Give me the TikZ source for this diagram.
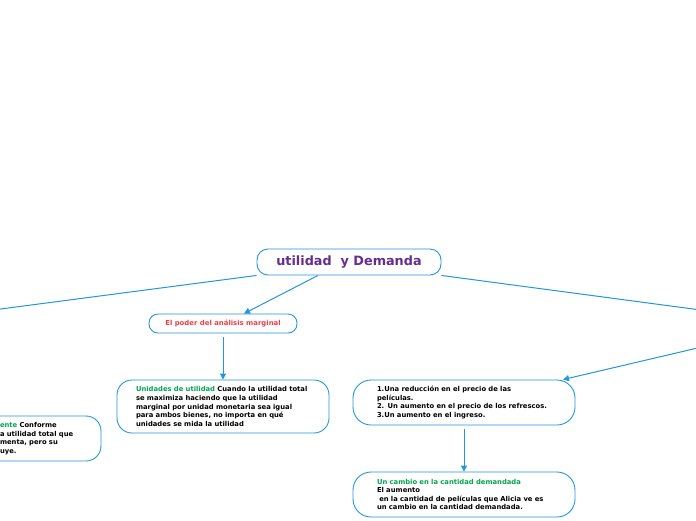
\documentclass[tikz,border=0pt]{standalone}
\usepackage{fontspec}
\setmainfont{DejaVu Sans}
\usetikzlibrary{arrows.meta}
\definecolor{lineblue}{RGB}{36,150,222}
\definecolor{tgreen}{RGB}{0,166,81}
\definecolor{tred}{RGB}{238,62,74}
\definecolor{tpurple}{RGB}{102,45,145}
\pgfdeclarelayer{bgzero}
\pgfdeclarelayer{bgone}
\pgfsetlayers{bgzero,bgone,main}
\begin{document}
\begin{tikzpicture}[x=1pt,y=-1pt,
  box/.style={draw=lineblue, line width=0.9pt, fill=white, rounded corners=#1, inner ysep=0pt},
  small/.style={font=\bfseries\fontsize{6.8}{8.6}\selectfont, align=left},
  conn/.style={draw=lineblue, line width=1pt},
  arr/.style={conn, -{Triangle[length=6pt,width=6pt]}}]
\useasboundingbox (0,0) rectangle (696,520);
\clip (0,0) rectangle (696,520);

\node[box=11, minimum width=184pt, minimum height=26pt, text=tpurple,
      font=\bfseries\fontsize{12.8}{15}\selectfont] (root) at (349,262) {utilidad\ \ y Demanda};

\node[box=9, minimum width=148pt, minimum height=19pt, text=tred,
      font=\bfseries\fontsize{6.9}{8}\selectfont] (poder) at (223,323.5) {El poder del análisis marginal};

\node[box=15, small, minimum width=212pt, minimum height=53pt, inner xsep=19pt, text width=174pt]
  (unid) at (223,406.5)
  {\textcolor{tgreen}{Unidades de utilidad} Cuando la utilidad total\\
   se maximiza haciendo que la utilidad\\
   marginal por unidad monetaria sea igual\\
   para ambos bienes, no importa en qué\\
   unidades se mida la utilidad};

\node[box=15, small, minimum width=121pt, minimum height=45pt, inner xsep=20pt, text width=81pt]
  (decr) at (40.5,438.5)
  {\textcolor{tgreen}{ente} Conforme\\
   a utilidad total que\\
   menta, pero su\\
   uye.};

\node[box=18, small, minimum width=222pt, minimum height=45pt, inner xsep=24pt, text width=174pt]
  (cambios) at (464,402.5)
  {1.Una reducción en el precio de las\\
   películas.\\
   2. Un aumento en el precio de los refrescos.\\
   3.Un aumento en el ingreso.};

\node[box=18, small, minimum width=222pt, minimum height=45pt, inner xsep=24pt, text width=174pt]
  (cantidad) at (464,494.5)
  {\textcolor{tgreen}{Un cambio en la cantidad demandada}\\
   El aumento\\
   \ en la cantidad de películas que Alicia ve es\\
   un cambio en la cantidad demandada.};

\coordinate (leftend) at (-30,313);
\coordinate (rightnode) at (802,323.5);

\begin{pgfonlayer}{bgzero}
  \fill[white] (0,0) rectangle (696,520);
\end{pgfonlayer}
\begin{pgfonlayer}{bgone}
  \draw[conn] (root.south west) -- (leftend);
  \draw[conn] (root.south east) -- (rightnode);
  \draw[arr] (rightnode) -- ([xshift=99pt]cambios.north);
  \draw[arr] ([xshift=-31pt]root.south) -- ([xshift=21pt]poder.north);
  \draw[arr, shorten <=4pt] (poder.south) -- (unid.north);
  \draw[arr, shorten <=4pt] (cambios.south) -- (cantidad.north);
\end{pgfonlayer}
\end{tikzpicture}
\end{document}
